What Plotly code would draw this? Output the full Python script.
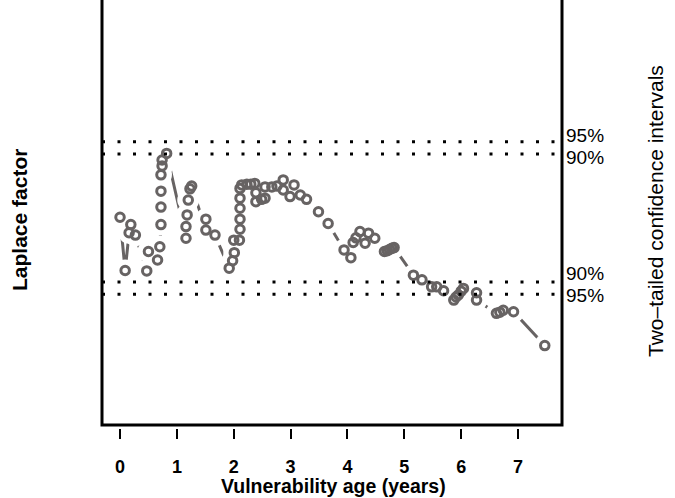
import plotly.graph_objects as go

# Vulnerability age (years) and Laplace factor, in time order
age = [0.00, 0.09, 0.16, 0.19, 0.27, 0.47, 0.50, 0.66, 0.70, 0.72, 0.72, 0.72, 0.72, 0.74, 0.74, 0.82,
       1.16, 1.16, 1.18, 1.20, 1.23, 1.26, 1.51, 1.51, 1.67,
       1.92, 1.98, 2.01, 2.00, 2.10, 2.11, 2.11, 2.11, 2.11, 2.11, 2.14, 2.23, 2.30, 2.37,
       2.39, 2.39, 2.49, 2.55, 2.55, 2.67, 2.76, 2.87, 2.87, 2.99, 3.06, 3.17, 3.28, 3.49, 3.66,
       3.94, 4.06, 4.10, 4.15, 4.22, 4.31, 4.37, 4.48, 4.65, 4.70, 4.74, 4.78, 4.82,
       5.16, 5.31, 5.48, 5.57, 5.69, 5.87, 5.91, 5.95, 6.00, 6.04, 6.27, 6.27, 6.62, 6.68, 6.74, 6.92, 7.47]
laplace = [0.02, -1.35, -0.38, -0.17, -0.44, -1.36, -0.86, -1.08, -0.74, -0.17, 0.28, 0.69, 1.11, 1.34, 1.49, 1.66,
           -0.52, -0.22, 0.08, 0.46, 0.75, 0.82, -0.31, -0.03, -0.44,
           -1.29, -1.10, -0.89, -0.57, -0.57, -0.29, -0.03, 0.25, 0.51, 0.76, 0.85, 0.87, 0.87, 0.89,
           0.65, 0.42, 0.48, 0.51, 0.80, 0.80, 0.82, 0.98, 0.72, 0.55, 0.85, 0.59, 0.48, 0.16, -0.14,
           -0.82, -1.02, -0.63, -0.51, -0.35, -0.65, -0.39, -0.52, -0.86, -0.84, -0.81, -0.78, -0.76,
           -1.47, -1.59, -1.77, -1.77, -1.87, -2.11, -2.03, -1.98, -1.88, -1.81, -1.92, -2.11, -2.45, -2.42, -2.37, -2.41, -3.28]

# two-tailed critical values
ci_levels = ["95%", "90%", "90%", "95%"]
ci_values = [1.96, 1.645, -1.645, -1.96]
ci_label_shift = [6, -3, 8.5, -1.5]

x_ticks = [0, 1, 2, 3, 4, 5, 6, 7]

gray = "#676363"
FONT = "Liberation Sans, Arial, Helvetica, sans-serif"

fig = go.Figure()
# connecting line
fig.add_trace(go.Scatter(x=age, y=laplace, mode="lines",
                         line=dict(color=gray, width=3), hoverinfo="skip", showlegend=False))
# white gaps around points (R type="b" style)
fig.add_trace(go.Scatter(x=age, y=laplace, mode="markers",
                         marker=dict(symbol="circle", size=22, color="white", line=dict(width=0)),
                         hoverinfo="skip", showlegend=False))
# open circles
fig.add_trace(go.Scatter(x=age, y=laplace, mode="markers",
                         marker=dict(symbol="circle-open", size=8.5, color=gray, line=dict(width=3)),
                         showlegend=False))

shapes = []
for v in ci_values:
    shapes.append(dict(type="line", xref="x domain", x0=0, x1=1, yref="y", y0=v, y1=v,
                       line=dict(color="black", width=3, dash="3px,12.5px"), layer="above"))

H = 498
plot_h = 428
dom = 3 / plot_h
# box: left, bottom, right (no top)
shapes.append(dict(type="path", xref="paper", yref="paper",
                   path=f"M 0,1.05 L 0,{dom} L 1,{dom} L 1,1.05",
                   line=dict(color="black", width=3), layer="above"))

annotations = []
for lab, v, s in zip(ci_levels, ci_values, ci_label_shift):
    annotations.append(dict(text=lab, xref="paper", x=1, xanchor="left", xshift=2,
                            yref="y", y=v, yshift=s, yanchor="middle", showarrow=False,
                            font=dict(family=FONT, size=19, color="black")))
annotations.append(dict(text="Laplace factor", xref="paper", x=(20 - 102) / 460, xanchor="center",
                        yref="paper", y=1 - 220 / plot_h, yanchor="middle", textangle=-90,
                        showarrow=False, font=dict(family=FONT, size=21, color="black", weight="bold")))
annotations.append(dict(text="Two\u2013tailed confidence intervals", xref="paper", x=(655 - 102) / 460,
                        xanchor="center", yref="paper", y=1 - 211 / plot_h, yanchor="middle", textangle=-90,
                        showarrow=False, font=dict(family=FONT, size=21, color="black")))
annotations.append(dict(text="Vulnerability age (years)", xref="paper", x=(333 - 102) / 460,
                        xanchor="center", yref="paper", y=(plot_h - 486) / plot_h, yanchor="middle",
                        showarrow=False, font=dict(family=FONT, size=19.5, color="black", weight="bold")))

fig.update_layout(
    width=675, height=H,
    margin=dict(l=102, r=113, t=0, b=H - plot_h, autoexpand=False),
    paper_bgcolor="white", plot_bgcolor="white",
    shapes=shapes, annotations=annotations,
    xaxis=dict(range=[-0.317, 7.773], anchor="free", position=0, showline=False, showgrid=False,
               zeroline=False, tickvals=x_ticks, ticks="outside", ticklen=10, tickwidth=2,
               tickcolor="black", ticklabelstandoff=12, automargin=False,
               tickfont=dict(family=FONT, size=18, color="black", weight="bold")),
    yaxis=dict(range=[-5.321, 5.604], domain=[dom, 1], showline=False, showgrid=False,
               zeroline=False, showticklabels=False, ticks="", automargin=False),
)

fig.write_html("out.html")
